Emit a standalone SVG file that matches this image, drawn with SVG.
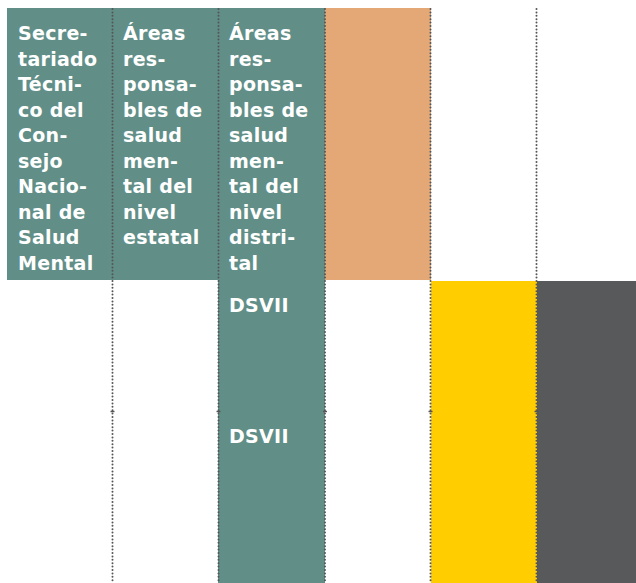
<svg xmlns="http://www.w3.org/2000/svg" width="636" height="583" viewBox="0 0 636 583">
<style>
.teal{fill:#618f88}
.orange{fill:#e4a876}
.yellow{fill:#ffcd00}
.dark{fill:#58595b}
.t{font-family:"DejaVu Sans","Liberation Sans",sans-serif;font-weight:bold;font-size:19px;letter-spacing:0.3px;fill:#ffffff}
.grid line{stroke:#555557;stroke-width:2;stroke-linecap:round;stroke-dasharray:0 3.4}
.ticks line{stroke:#555557;stroke-width:1.4}
</style>
<rect width="636" height="583" fill="#ffffff"/>
<g id="secretariado">
<rect class="teal" x="7" y="8" width="105" height="272"/>
<text class="t"><tspan x="18" y="40">Secre-</tspan><tspan x="18" y="65.5">tariado</tspan><tspan x="18" y="91">Técni-</tspan><tspan x="18" y="116.5">co del</tspan><tspan x="18" y="142">Con-</tspan><tspan x="18" y="167.5">sejo</tspan><tspan x="18" y="193">Nacio-</tspan><tspan x="18" y="218.5">nal de</tspan><tspan x="18" y="244">Salud</tspan><tspan x="18" y="269.5">Mental</tspan></text>
</g>
<g id="estatal">
<rect class="teal" x="112" y="8" width="106" height="272"/>
<text class="t"><tspan x="123" y="40">Áreas</tspan><tspan x="123" y="65.5">res-</tspan><tspan x="123" y="91">ponsa-</tspan><tspan x="123" y="116.5">bles de</tspan><tspan x="123" y="142">salud</tspan><tspan x="123" y="167.5">men-</tspan><tspan x="123" y="193">tal del</tspan><tspan x="123" y="218.5">nivel</tspan><tspan x="123" y="244">estatal</tspan></text>
</g>
<g id="distrital">
<rect class="teal" x="218" y="8" width="107" height="575"/>
<text class="t"><tspan x="229" y="40">Áreas</tspan><tspan x="229" y="65.5">res-</tspan><tspan x="229" y="91">ponsa-</tspan><tspan x="229" y="116.5">bles de</tspan><tspan x="229" y="142">salud</tspan><tspan x="229" y="167.5">men-</tspan><tspan x="229" y="193">tal del</tspan><tspan x="229" y="218.5">nivel</tspan><tspan x="229" y="244">distri-</tspan><tspan x="229" y="269.5">tal</tspan></text>
<text class="t" x="229" y="312">DSVII</text>
<text class="t" x="229" y="443">DSVII</text>
</g>
<g id="orange">
<rect class="orange" x="325" y="8" width="106" height="272"/>
</g>
<g id="yellow">
<rect class="yellow" x="431" y="281" width="106" height="302"/>
</g>
<g id="dark">
<rect class="dark" x="537" y="281" width="99" height="302"/>
</g>
<g id="connectors" class="grid">
<line x1="112.5" y1="9" x2="112.5" y2="583"/>
<line x1="218.5" y1="9" x2="218.5" y2="583"/>
<line x1="325" y1="9" x2="325" y2="583"/>
<line x1="430.5" y1="9" x2="430.5" y2="583"/>
<line x1="536.5" y1="9" x2="536.5" y2="583"/>
</g>
<g class="ticks">
<line x1="110.5" y1="411.5" x2="114.5" y2="411.5"/>
<line x1="216.5" y1="411.5" x2="220.5" y2="411.5"/>
<line x1="323" y1="411.5" x2="327" y2="411.5"/>
<line x1="428.5" y1="411.5" x2="432.5" y2="411.5"/>
<line x1="534.5" y1="411.5" x2="538.5" y2="411.5"/>
</g>
</svg>
